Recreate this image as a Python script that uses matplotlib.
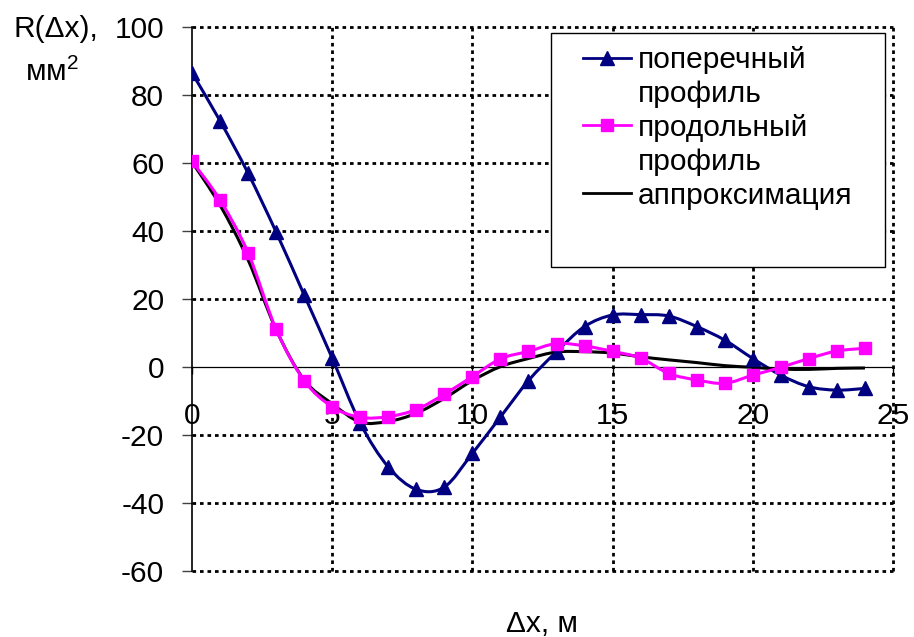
import numpy as np
import matplotlib
matplotlib.use('Agg')
import matplotlib.pyplot as plt
from matplotlib.path import Path
from matplotlib.patches import PathPatch, Rectangle
from matplotlib.lines import Line2D

plt.rcParams['font.family'] = ['Liberation Sans', 'DejaVu Sans']
plt.rcParams['mathtext.fontset'] = 'custom'
plt.rcParams['mathtext.rm'] = 'Liberation Sans'
plt.rcParams['axes.unicode_minus'] = False

# ---------- данные ----------
dx = list(range(25))
cross_profile = [86.5, 72.4, 57.0, 39.7, 21.2, 2.6, -16.5, -29.4, -36.0, -35.3,
                 -25.4, -14.7, -4.0, 4.5, 11.9, 15.3, 15.4, 15.0, 11.9, 7.9,
                 2.5, -2.4, -5.8, -6.8, -6.3]
long_profile = [60.5, 49.1, 33.6, 11.1, -4.0, -11.7, -14.8, -14.6, -12.5, -8.0,
                -2.8, 2.4, 4.6, 6.9, 6.2, 4.6, 2.6, -1.9, -3.8, -4.8,
                -2.4, -0.1, 2.5, 4.7, 5.5]
approx = [60.3, 47.6, 31.5, 11.0, -3.8, -10.8, -16.2, -16.0, -13.6, -9.2,
          -4.0, 0.1, 2.5, 4.4, 4.5, 4.1, 3.0, 2.1, 1.3, 0.4,
          -0.1, -0.6, -0.7, -0.4, -0.3]

x_ticks = [0, 5, 10, 15, 20, 25]
y_ticks = [-60, -40, -20, 0, 20, 40, 60, 80, 100]

BLUE = '#000080'
PINK = '#FF00FF'
FS = 21.5


def smooth_path(xs, ys):
    # сглаживание как в Excel (кривые Безье через точки)
    p = np.column_stack([xs, ys]).astype(float)
    n = len(p)
    verts = [p[0]]
    codes = [Path.MOVETO]
    for i in range(n - 1):
        p0 = p[i - 1] if i > 0 else p[i]
        p3 = p[i + 2] if i + 2 < n else p[i + 1]
        verts += [p[i] + (p[i + 1] - p0) / 6, p[i + 1] - (p3 - p[i]) / 6, p[i + 1]]
        codes += [Path.CURVE4] * 3
    return Path(verts, codes)


fig = plt.figure(figsize=(9.14, 6.37), dpi=100)
ax = fig.add_axes([192 / 914, 1 - 571 / 637, 701 / 914, 544 / 637])
ax.set_xlim(0, 25)
ax.set_ylim(-60, 100)

# сетка пунктиром
grid_kw = dict(color='black', lw=2.0, linestyle=(0, (1.3, 1.4)), zorder=1, clip_on=False)
for yt in y_ticks:
    if yt != 0:
        ax.axhline(yt, **grid_kw)
for xt in x_ticks[1:]:
    ax.axvline(xt, **grid_kw)

for side in ['top', 'right']:
    ax.spines[side].set_visible(False)
ax.spines['left'].set_linewidth(1.2)
ax.spines['bottom'].set_position(('data', 0))
ax.spines['bottom'].set_linewidth(0.9)
ax.spines['left'].set_zorder(2)
ax.spines['bottom'].set_zorder(2)

ax.set_xticks(x_ticks)
ax.set_yticks(y_ticks)
ax.tick_params(axis='y', length=7, width=1, color='#404040', pad=13, labelsize=FS)
ax.tick_params(axis='x', length=5, width=1, pad=20, labelsize=FS)

ax.add_patch(PathPatch(smooth_path(dx, cross_profile), fill=False, edgecolor=BLUE, lw=2.2, zorder=3))
ax.add_patch(PathPatch(smooth_path(dx, approx), fill=False, edgecolor='black', lw=2.2, zorder=3.1))
ax.add_patch(PathPatch(smooth_path(dx, long_profile), fill=False, edgecolor=PINK, lw=2.2, zorder=3.2))
ax.plot(dx, cross_profile, linestyle='none', marker='^', ms=10.5, color=BLUE, zorder=4)
ax.plot(dx, long_profile, linestyle='none', marker='s', ms=8.5, color=PINK, zorder=4.1)

# легенда
handles = [
    Line2D([], [], color=BLUE, lw=2, marker='^', ms=10),
    Line2D([], [], linestyle='none'),
    Line2D([], [], color=PINK, lw=2, marker='s', ms=8.5),
    Line2D([], [], linestyle='none'),
    Line2D([], [], color='black', lw=2),
]
labels = ['поперечный', 'профиль', 'продольный', 'профиль', 'аппроксимация']
ax.add_patch(Rectangle((551 / 914, 1 - 267 / 637), 334 / 914, 234 / 637,
                       transform=fig.transFigure, facecolor='white', edgecolor='black',
                       lw=1, zorder=4.5, clip_on=False))
ax.legend(handles, labels, loc='upper left', bbox_to_anchor=(583 / 914, 1 - 46 / 637),
          bbox_transform=fig.transFigure, frameon=False, fontsize=FS,
          borderpad=0, borderaxespad=0, handlelength=1.6, handletextpad=0.25,
          labelspacing=0.2, numpoints=1)

fig.text(13 / 914, 1 - 29 / 637, 'R(Δx),', fontsize=FS, ha='left', va='center')
fig.text(52 / 914, 1 - 72 / 637, r'мм$^2$', fontsize=FS, ha='center', va='center')
fig.text(542 / 914, 1 - 624 / 637, 'Δx, м', fontsize=FS, ha='center', va='center')

plt.savefig('out.png', dpi=100)
plt.close()
